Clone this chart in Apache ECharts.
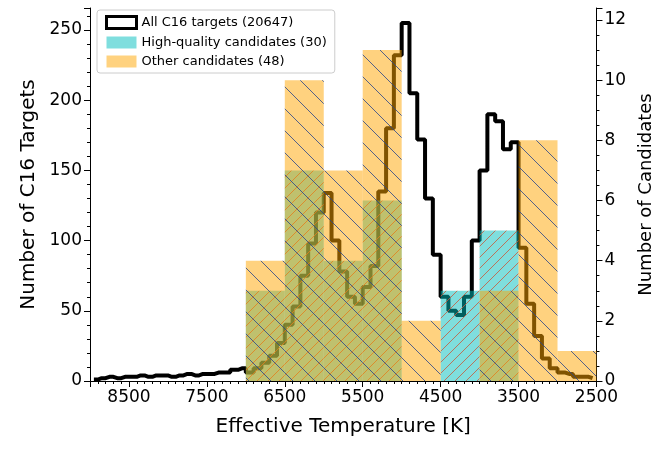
<!DOCTYPE html>
<html lang="en">
<head>
<meta charset="UTF-8">
<script src="https://cdn.jsdelivr.net/npm/echarts@6/dist/echarts.min.js"></script>
<title>C16</title>
</head>
<body style="margin:0;">
<div id="container" style="width:663px;height:449px;"></div>
<script>
    // all C16 targets, 100 K bins (bin centre, count)
    let targetTemps = [8950,8850,8750,8650,8550,8450,8350,8250,8150,8050,7950,7850,7750,7650,7550,7450,7350,7250,7150,7050,
        6950,6850,6750,6650,6550,6450,6350,6250,6150,6050,5950,5850,5750,5650,5550,5450,5350,5250,5150,5050,
        4950,4850,4750,4650,4550,4450,4350,4250,4150,4050,3950,3850,3750,3650,3550,3450,3350,3250,3150,3050,
        2950,2850,2750,2650,2550];
    let targetCounts = [1,2,3,2,3,3,4,3,4,4,3,4,5,4,5,5,6,6,8,9,
        6,9,13,18,27,40,53,75,98,120,134,100,78,60,55,67,82,135,180,232,
        255,205,172,130,90,60,50,47,60,100,150,190,185,165,170,95,55,32,16,9,
        6,5,3,3,2];
    // candidate bins, 500 K wide
    let binLo = [6500,6000,5500,5000,4500,4000,3500,3000,2500];
    let binHi = [7000,6500,6000,5500,5000,4500,4000,3500,3000];
    let hqCounts = [3,7,4,6,0,3,5,0,0];
    let otherCounts = [4,10,7,11,2,0,3,8,1];

    function makePattern(size, bg, lineColor, dir) {
        let c = document.createElement('canvas');
        c.width = size; c.height = size;
        let g = c.getContext('2d');
        g.fillStyle = bg;
        g.fillRect(0, 0, size, size);
        g.strokeStyle = lineColor;
        g.lineWidth = 1;
        for (let k = -1; k <= 1; k++) {
            g.beginPath();
            if (dir === 'back') {
                g.moveTo(k * size, 0); g.lineTo(k * size + size, size);
            } else {
                g.moveTo(k * size, size); g.lineTo(k * size + size, 0);
            }
            g.stroke();
        }
        return c;
    }
    let hqPattern = makePattern(11, 'rgba(0,190,190,0.5)', 'rgba(200,90,60,0.8)', 'fwd');
    let otherPattern = makePattern(22, 'rgba(255,165,0,0.5)', 'rgba(40,70,140,0.8)', 'back');

    function binRender(pattern) {
        return function (params, api) {
            let p0 = api.coord([api.value(1), api.value(2)]);
            let p1 = api.coord([api.value(0), 0]);
            return {
                type: 'rect',
                shape: {x: Math.min(p0[0], p1[0]), y: p0[1], width: Math.abs(p1[0] - p0[0]), height: p1[1] - p0[1]},
                style: {fill: {image: pattern, repeat: 'repeat'}}
            };
        };
    }

    let myChart = echarts.init(document.getElementById('container'));
    let lbl = {fontSize: 17, color: '#000', fontFamily: 'DejaVu Sans', formatter: v => String(v)};
    let option = {
        animation: false,
        grid: {left: 90, right: 65, top: 8, bottom: 68},
        legend: {
            left: 97, top: 10, orient: 'vertical', itemGap: 6,
            itemWidth: 30, itemHeight: 12,
            backgroundColor: '#fff', borderColor: '#ccc', borderWidth: 1, borderRadius: 3, padding: [5, 8],
            textStyle: {fontSize: 13, color: '#000', fontFamily: 'DejaVu Sans'},
            data: [
                {name: 'All C16 targets (20647)', icon: 'rect', itemStyle: {color: '#fff', borderColor: '#000', borderWidth: 3}},
                {name: 'High-quality candidates (30)', icon: 'rect', itemStyle: {color: '#7fdede'}},
                {name: 'Other candidates (48)', icon: 'rect', itemStyle: {color: '#ffd27f'}}
            ]
        },
        xAxis: {
            type: 'value', inverse: true, min: 2500, max: 9000, interval: 1000,
            name: 'Effective Temperature [K]', nameLocation: 'middle', nameGap: 36,
            nameTextStyle: {fontSize: 20, fontFamily: 'DejaVu Sans'},
            axisLine: {lineStyle: {color: '#000'}},
            axisTick: {inside: false, length: 6, lineStyle: {color: '#000'}},
            minorTick: {show: true, splitNumber: 10, length: 3, lineStyle: {color: '#000'}},
            axisLabel: Object.assign({showMaxLabel: false}, lbl), splitLine: {show: false}
        },
        yAxis: [{
            type: 'value', min: 0, max: 265.7, interval: 50,
            name: 'Number of C16 Targets', nameLocation: 'middle', nameGap: 50,
            nameTextStyle: {fontSize: 20, fontFamily: 'DejaVu Sans'},
            axisLine: {show: true, lineStyle: {color: '#000'}},
            axisTick: {show: true, length: 6, lineStyle: {color: '#000'}},
            minorTick: {show: true, splitNumber: 5, length: 3, lineStyle: {color: '#000'}},
            axisLabel: Object.assign({showMaxLabel: false}, lbl), splitLine: {show: false}
        }, {
            type: 'value', min: 0, max: 12.4, interval: 2,
            name: 'Number of Candidates', nameLocation: 'middle', nameGap: 36,
            nameTextStyle: {fontSize: 18, fontFamily: 'DejaVu Sans'},
            axisLine: {show: true, lineStyle: {color: '#000'}},
            axisTick: {show: true, length: 6, lineStyle: {color: '#000'}},
            minorTick: {show: true, splitNumber: 4, length: 3, lineStyle: {color: '#000'}},
            axisLabel: Object.assign({showMaxLabel: false}, lbl), splitLine: {show: false}
        }],
        series: [{
            name: 'All C16 targets (20647)', type: 'line', step: 'middle', z: 1,
            showSymbol: false, lineStyle: {color: '#000', width: 4},
            data: targetTemps.map((t, i) => [t, targetCounts[i]])
        }, {
            name: 'High-quality candidates (30)', type: 'custom', yAxisIndex: 1, z: 2,
            renderItem: binRender(hqPattern),
            data: binLo.map((lo, i) => [lo, binHi[i], hqCounts[i]])
        }, {
            name: 'Other candidates (48)', type: 'custom', yAxisIndex: 1, z: 3,
            renderItem: binRender(otherPattern),
            data: binLo.map((lo, i) => [lo, binHi[i], otherCounts[i]])
        }]
    };
    myChart.setOption(option);
</script>
</body>
</html>
